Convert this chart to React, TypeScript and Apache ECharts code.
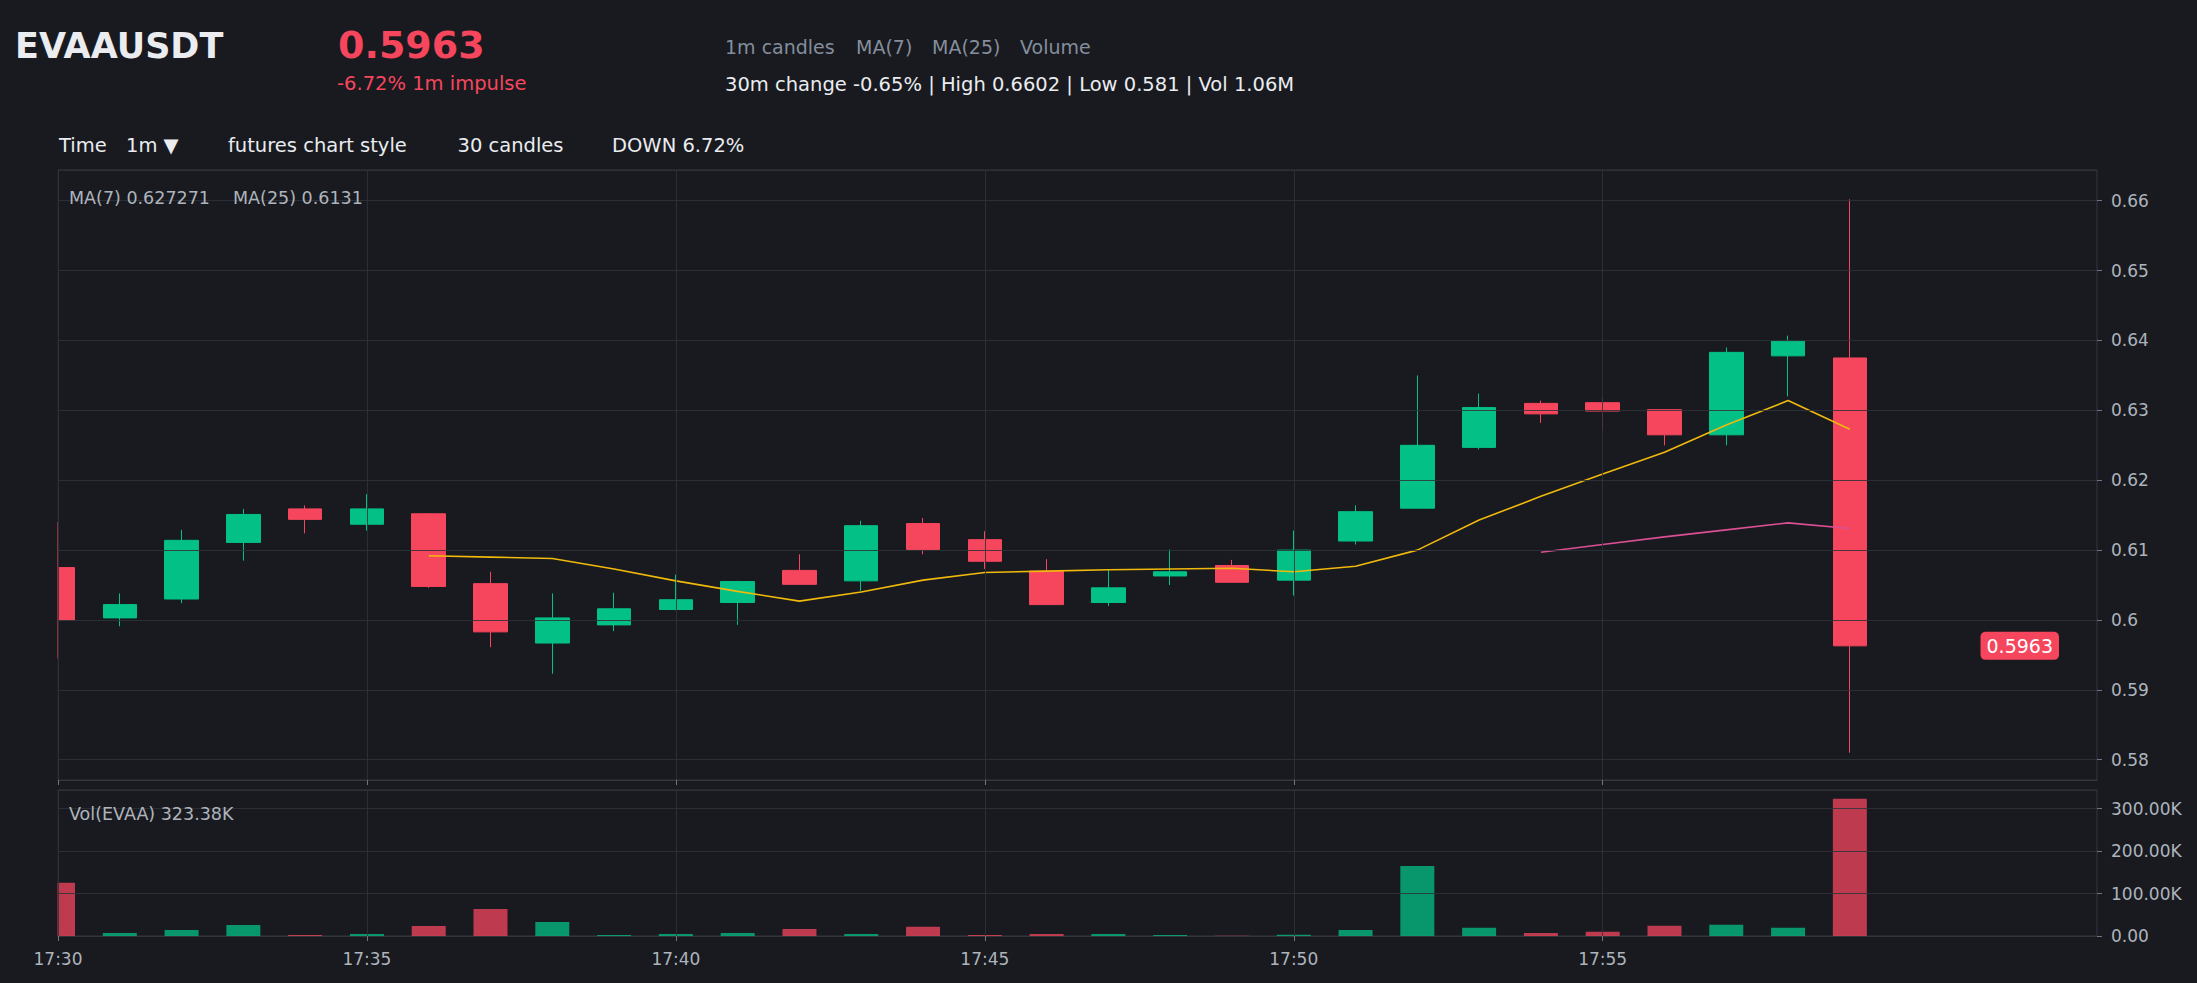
import React, { useEffect, useRef } from 'react';
import * as echarts from 'echarts';

// ---- data ----
const times = [
  '17:30', '17:31', '17:32', '17:33', '17:34', '17:35', '17:36', '17:37', '17:38', '17:39',
  '17:40', '17:41', '17:42', '17:43', '17:44', '17:45', '17:46', '17:47', '17:48', '17:49',
  '17:50', '17:51', '17:52', '17:53', '17:54', '17:55', '17:56', '17:57', '17:58', '17:59',
  '18:00', '18:01', '18:02', '18:03',
];
const opens = [
  0.6075, 0.6003, 0.6030, 0.6111, 0.6159, 0.6137, 0.6152, 0.6052, 0.5967, 0.5993,
  0.6015, 0.6025, 0.6071, 0.6056, 0.6138, 0.6115, 0.6070, 0.6025, 0.6063, 0.6078,
  0.6057, 0.6113, 0.6160, 0.6247, 0.6310, 0.6311, 0.6301, 0.6265, 0.6378, 0.6375,
];
const closes = [
  0.6000, 0.6022, 0.6114, 0.6151, 0.6144, 0.6159, 0.6048, 0.5983, 0.6003, 0.6016,
  0.6029, 0.6055, 0.6051, 0.6135, 0.6101, 0.6084, 0.6022, 0.6046, 0.6069, 0.6054,
  0.6100, 0.6155, 0.6250, 0.6304, 0.6295, 0.6299, 0.6265, 0.6383, 0.6399, 0.5963,
];
const highs = [
  0.6140, 0.6038, 0.6129, 0.6159, 0.6164, 0.6180, 0.6153, 0.6069, 0.6038, 0.6039,
  0.6065, 0.6056, 0.6094, 0.6142, 0.6146, 0.6127, 0.6087, 0.6072, 0.6101, 0.6086,
  0.6128, 0.6164, 0.6350, 0.6324, 0.6314, 0.6317, 0.6301, 0.6390, 0.6407, 0.6602,
];
const lows = [
  0.5945, 0.5991, 0.6024, 0.6085, 0.6124, 0.6128, 0.6046, 0.5961, 0.5923, 0.5984,
  0.6014, 0.5993, 0.6050, 0.6041, 0.6094, 0.6073, 0.6022, 0.6020, 0.6050, 0.6054,
  0.6035, 0.6108, 0.6160, 0.6244, 0.6282, 0.6271, 0.6250, 0.6250, 0.6320, 0.5810,
];
const volumes = [
  125700, 7100, 14100, 25900, 2400, 4700, 23600, 63600, 33000, 2400,
  4700, 7100, 16500, 4700, 22000, 2400, 4700, 4700, 2400, 800,
  3100, 14100, 165000, 19600, 7100, 10200, 24400, 26700, 19600, 323380,
];
const ma7 = [
  null, null, null, null, null, null, 0.6092, 0.6090, 0.6088, 0.6073,
  0.6056, 0.6041, 0.6027, 0.6040, 0.6057, 0.6068, 0.6070, 0.6072, 0.6073, 0.6074,
  0.6069, 0.6077, 0.6100, 0.6143, 0.6177, 0.6209, 0.6240, 0.6279, 0.6314, 0.6273,
];
const ma25 = [
  null, null, null, null, null, null, null, null, null, null,
  null, null, null, null, null, null, null, null, null, null,
  null, null, null, null, 0.6097, 0.6108, 0.6119, 0.6129, 0.6139, 0.6131,
];
const priceAxisPadTop = 0.0042;
const priceAxisPadBottom = 0.0039;
const volumeAxisMax = 344000;

const UP = '#03c087';
const DOWN = '#f6465d';
const BG = '#181a20';
const FONT = '"DejaVu Sans", sans-serif';
const GRIDLINE = 'rgba(46,50,58,0.85)';
const BORDER = '#33363d';
const AXIS_TEXT = '#aeb4bc';

// layout
const W = 2197;
const H = 983;
const G_LEFT = 58;
const G_RIGHT = 100;
const MAIN_TOP = 170;
const MAIN_BOTTOM = 203;
const VOL_TOP = 790;
const VOL_BOTTOM = 47;

const tickEvery = (i: number) => i % 5 === 0 && i < closes.length;

function txt(x: number, y: number, text: string, fill: string, fontSize: number, bold = false) {
  return {
    type: 'text',
    x,
    y,
    silent: true,
    z: 50,
    style: {
      text,
      fill,
      fontSize,
      fontWeight: bold ? 'bold' : 'normal',
      fontFamily: FONT,
      align: 'left',
      verticalAlign: 'middle',
    },
  };
}

export default function App() {
  const ref = useRef<HTMLDivElement>(null);

  useEffect(() => {
    document.body.style.background = BG;
    const chart = echarts.init(ref.current!, undefined, { renderer: 'svg' });
    const hi = Math.max(...highs);
    const lo = Math.min(...lows);
    const last = closes[closes.length - 1];

    const candleData = opens.map((o, i) => [o, closes[i], lows[i], highs[i]]);
    const volData = volumes.map((v, i) => ({
      value: v,
      itemStyle: { color: closes[i] >= opens[i] ? UP : DOWN, opacity: 0.75 },
    }));

    const xCommon = {
      type: 'category',
      data: times,
      boundaryGap: false,
      z: 10,
      axisLine: { show: true, lineStyle: { color: BORDER, width: 1 } },
      axisTick: { show: true, interval: tickEvery, length: 5, lineStyle: { color: '#6f7680' } },
      splitLine: { show: true, interval: tickEvery, lineStyle: { color: GRIDLINE, width: 1 } },
    };

    const headerGraphics = [
      txt(15, 45.5, 'EVAAUSDT', '#eaecef', 35, true),
      txt(338, 44.5, '0.5963', DOWN, 38, true),
      txt(337, 83, '-6.72% 1m impulse', DOWN, 19.5),
      txt(725, 46.5, '1m candles', '#848e9c', 19),
      txt(856, 46.5, 'MA(7)', '#848e9c', 19),
      txt(932, 46.5, 'MA(25)', '#848e9c', 19),
      txt(1020, 46.5, 'Volume', '#848e9c', 19),
      txt(725, 84, '30m change -0.65% | High 0.6602 | Low 0.581 | Vol 1.06M', '#eaecef', 19.5),
      txt(59, 145.5, 'Time', '#eaecef', 19.5),
      txt(126, 145.5, '1m ▼', '#eaecef', 19.5),
      txt(228, 145.5, 'futures chart style', '#eaecef', 19.5),
      txt(457.5, 145.5, '30 candles', '#eaecef', 19.5),
      txt(612, 145.5, 'DOWN 6.72%', '#eaecef', 19.5),
      txt(69, 198, 'MA(7) 0.627271', AXIS_TEXT, 17.5),
      txt(233, 198, 'MA(25) 0.6131', AXIS_TEXT, 17.5),
      txt(69, 814, 'Vol(EVAA) 323.38K', AXIS_TEXT, 17.5),
    ];

    // masks that clip the half of the first candle / first bar that lies left of the plot
    const masks = [
      { type: 'rect', silent: true, z: 40, shape: { x: 0, y: MAIN_TOP, width: G_LEFT - 0.5, height: H - MAIN_BOTTOM - MAIN_TOP }, style: { fill: BG } },
      { type: 'rect', silent: true, z: 40, shape: { x: 0, y: VOL_TOP, width: G_LEFT - 0.5, height: H - VOL_BOTTOM - VOL_TOP }, style: { fill: BG } },
    ];

    const option: any = {
      animation: false,
      backgroundColor: BG,
      textStyle: { fontFamily: FONT },
      grid: [
        { left: G_LEFT, right: G_RIGHT, top: MAIN_TOP, bottom: MAIN_BOTTOM, show: true, borderColor: BORDER, borderWidth: 1, backgroundColor: 'transparent' },
        { left: G_LEFT, right: G_RIGHT, top: VOL_TOP, bottom: VOL_BOTTOM, show: true, borderColor: BORDER, borderWidth: 1, backgroundColor: 'transparent' },
      ],
      xAxis: [
        { ...xCommon, gridIndex: 0, axisLabel: { show: false } },
        {
          ...xCommon,
          gridIndex: 1,
          axisLabel: { show: true, interval: tickEvery, color: AXIS_TEXT, fontSize: 17, margin: 14, fontFamily: FONT },
        },
      ],
      yAxis: [
        {
          type: 'value',
          gridIndex: 0,
          position: 'right',
          scale: true,
          min: lo - priceAxisPadBottom,
          max: hi + priceAxisPadTop,
          minInterval: 0.01,
          maxInterval: 0.01,
          z: 10,
          axisLine: { show: false },
          axisTick: { show: true, length: 5, lineStyle: { color: '#6f7680' } },
          axisLabel: {
            color: AXIS_TEXT,
            fontSize: 17,
            margin: 14,
            fontFamily: FONT,
            showMinLabel: false,
            showMaxLabel: false,
            formatter: (v: number) => String(+v.toFixed(4)),
          },
          splitLine: { show: true, lineStyle: { color: GRIDLINE, width: 1 } },
        },
        {
          type: 'value',
          gridIndex: 1,
          position: 'right',
          min: 0,
          max: volumeAxisMax,
          minInterval: 100000,
          maxInterval: 100000,
          z: 10,
          axisLine: { show: false },
          axisTick: { show: true, length: 5, lineStyle: { color: '#6f7680' } },
          axisLabel: {
            color: AXIS_TEXT,
            fontSize: 17,
            margin: 14,
            fontFamily: FONT,
            showMaxLabel: false,
            formatter: (v: number) => (v === 0 ? '0.00' : (v / 1000).toFixed(2) + 'K'),
          },
          splitLine: { show: true, lineStyle: { color: GRIDLINE, width: 1 } },
        },
      ],
      series: [
        {
          type: 'candlestick',
          name: 'EVAAUSDT',
          xAxisIndex: 0,
          yAxisIndex: 0,
          data: candleData,
          barWidth: 34,
          itemStyle: { color: UP, color0: DOWN, borderColor: UP, borderColor0: DOWN, borderWidth: 1 },
        },
        {
          type: 'line',
          name: 'MA(7)',
          xAxisIndex: 0,
          yAxisIndex: 0,
          data: ma7,
          showSymbol: false,
          symbol: 'none',
          lineStyle: { color: '#f0b90b', width: 1.6 },
          itemStyle: { color: '#f0b90b' },
          z: 3,
        },
        {
          type: 'line',
          name: 'MA(25)',
          xAxisIndex: 0,
          yAxisIndex: 0,
          data: ma25,
          showSymbol: false,
          symbol: 'none',
          lineStyle: { color: '#dc4f93', width: 1.6 },
          itemStyle: { color: '#dc4f93' },
          z: 3,
        },
        {
          type: 'bar',
          name: 'Volume',
          xAxisIndex: 1,
          yAxisIndex: 1,
          data: volData,
          barWidth: 34,
        },
      ],
      graphic: [...masks, ...headerGraphics],
    };

    chart.setOption(option);

    // last-price tag placed at the price through the axis scale
    const py = chart.convertToPixel({ yAxisIndex: 0 }, last) as number;
    chart.setOption({
      graphic: [
        ...masks,
        ...headerGraphics,
        {
          type: 'text',
          silent: true,
          z: 60,
          x: W - G_RIGHT - 38,
          y: py,
          style: {
            text: String(last),
            fill: '#ffffff',
            fontSize: 19,
            fontFamily: FONT,
            align: 'right',
            verticalAlign: 'middle',
            backgroundColor: DOWN,
            borderRadius: 5,
            padding: [5, 6, 4, 6],
          },
        },
      ],
    });

    return () => chart.dispose();
  }, []);

  return <div ref={ref} style={{ position: 'fixed', left: 0, top: 0, width: W, height: H }} />;
}
